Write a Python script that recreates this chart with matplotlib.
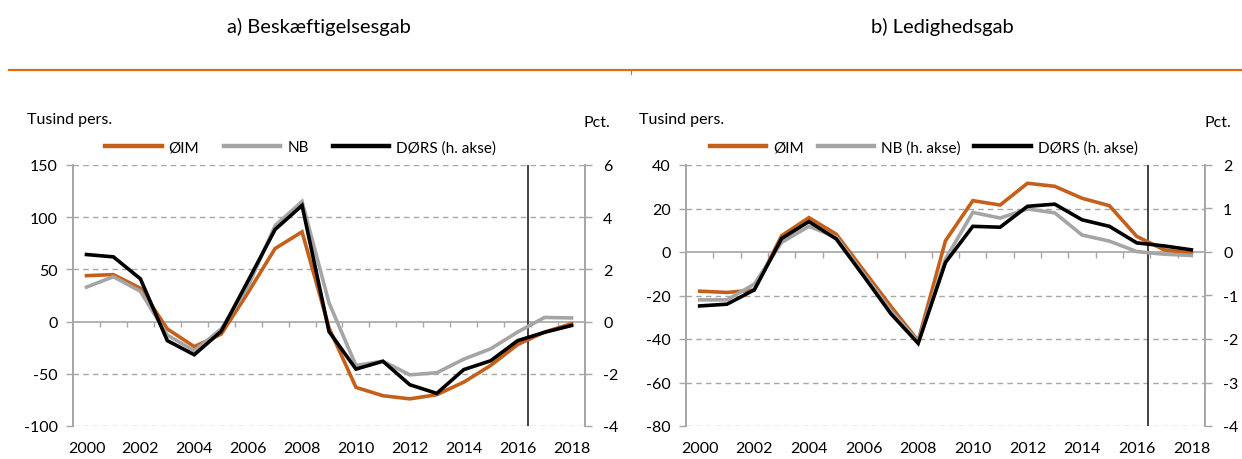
import matplotlib
matplotlib.use("Agg")
import matplotlib.pyplot as plt
from matplotlib.lines import Line2D
import numpy as np

plt.rcParams['font.family'] = ['Lato', 'DejaVu Sans']

years = list(range(2000, 2019))
xtick_labels = [str(y) for y in range(2000, 2019, 2)]

# Panel a) Beskæftigelsesgab
a_oim = [44, 45, 32, -7, -24, -12, 28, 70, 86, -6, -63, -71, -74, -70, -58, -42, -22, -10, -2]
a_nb = [33, 43, 29, -13, -28, -7, 34, 92, 115, 18, -42, -38, -51, -49, -36, -26, -10, 4, 3.5]
a_dors = [2.57, 2.48, 1.64, -0.73, -1.27, -0.37, 1.57, 3.53, 4.45, -0.38, -1.82, -1.52,
          -2.42, -2.75, -1.84, -1.50, -0.73, -0.41, -0.15]

# Panel b) Ledighedsgab
b_oim = [-18, -18.6, -17.5, 7.5, 15.8, 8.2, -8.4, -25, -40.8, 5.2, 23.6, 21.6,
         31.6, 30.2, 24.7, 21.3, 7.2, 1, -0.5]
b_nb = [-1.1, -1.1, -0.74, 0.22, 0.59, 0.34, -0.5, -1.35, -2.06, -0.16, 0.91, 0.78,
        0.99, 0.9, 0.39, 0.25, 0.01, -0.05, -0.08]
b_dors = [-1.24, -1.2, -0.87, 0.31, 0.70, 0.30, -0.55, -1.42, -2.1, -0.24, 0.59, 0.57,
          1.05, 1.1, 0.74, 0.59, 0.21, 0.14, 0.05]

titles = ["a) Beskæftigelsesgab", "b) Ledighedsgab"]
left_ticks = [[150, 100, 50, 0, -50, -100], [40, 20, 0, -20, -40, -60, -80]]
right_ticks = [[6, 4, 2, 0, -2, -4], [2, 1, 0, -1, -2, -3, -4]]
forecast_x = 16.4

ORANGE = "#C5601B"
GRAY = "#A5A5A5"
BLACK = "#000000"
AXGRAY = "#A6A6A6"

fig = plt.figure(figsize=(12.42, 4.6), dpi=100)

def setup(ax_rect, lt, rt, series_left, series_right, labels, colors, legend_x, colspacing, title, title_x):
    ax = fig.add_axes(ax_rect)
    ax2 = ax.twinx()
    x = np.arange(len(years))
    ax.set_xlim(-0.5, len(years) - 0.5)
    ax.set_ylim(min(lt), max(lt))
    ax2.set_ylim(min(rt), max(rt))
    ax.set_yticks(lt)
    ax.set_yticklabels([str(v) for v in lt])
    ax2.set_yticks(rt)
    ax2.set_yticklabels([str(v) for v in rt])
    for v in lt:
        if v == 0:
            ax.axhline(0, color=AXGRAY, lw=1.2, zorder=1)
        else:
            ax.axhline(v, color=AXGRAY, lw=1.0, ls=(0, (4, 3)), zorder=1)
    y0 = (0 - min(lt)) / (max(lt) - min(lt))
    ax.vlines(np.arange(0.5, len(years) - 1, 1), y0 - 0.022, y0,
              transform=ax.get_xaxis_transform(), color=AXGRAY, lw=1.0, zorder=1)
    ax.set_xticks(x[::2])
    ax.set_xticklabels(xtick_labels)
    ax.tick_params(axis='x', length=0, pad=11, labelsize=11.5, colors='#000000')
    ax.tick_params(axis='y', length=5, width=1, color=AXGRAY, pad=6, labelsize=11.5)
    ax2.tick_params(axis='y', length=5, width=1, color=AXGRAY, pad=8, labelsize=11.5)
    for a in (ax, ax2):
        a.spines['top'].set_visible(False)
        a.spines['bottom'].set_visible(False)
        a.spines['left'].set_color(AXGRAY)
        a.spines['right'].set_color(AXGRAY)
        a.spines['left'].set_linewidth(1.2)
        a.spines['right'].set_linewidth(1.2)
    ax.axvline(forecast_x, color="#333333", lw=1.3, zorder=2)
    handles = []
    for (vals, is_right), lab, col in zip(series_left + series_right, labels, colors):
        target = ax2 if is_right else ax
        target.plot(x, vals, color=col, lw=2.6, solid_joinstyle='miter', zorder=3)
        handles.append(Line2D([], [], color=col, lw=3.2))
    ax2.set_zorder(ax.get_zorder() + 1)
    ax2.patch.set_visible(False)
    ax.legend(handles, labels, loc='center left', bbox_to_anchor=(legend_x, 1.068),
              ncol=3, frameon=False, fontsize=11, handlelength=3.7, handletextpad=0.45,
              columnspacing=colspacing, borderpad=0, borderaxespad=0)
    ax.text(-0.09, 1.175, "Tusind pers.", transform=ax.transAxes, fontsize=11.5,
            ha='left', va='center')
    ax2.text(1.05, 1.165, "Pct.", transform=ax.transAxes, fontsize=11.5,
             ha='right', va='center')
    fig.text(title_x, 1 - 27 / 460, title, fontsize=14.5, ha='center', va='center')
    return ax, ax2

setup([73 / 1242, 1 - 427 / 460, 512 / 1242, 261 / 460], left_ticks[0], right_ticks[0],
      [(a_oim, False), (a_nb, False)], [(a_dors, True)],
      ["ØIM", "NB", "DØRS (h. akse)"], [ORANGE, GRAY, BLACK], 0.063, 1.6,
      titles[0], 319 / 1242)
setup([686 / 1242, 1 - 427 / 460, 519 / 1242, 261 / 460], left_ticks[1], right_ticks[1],
      [(b_oim, False)], [(b_nb, True), (b_dors, True)],
      ["ØIM", "NB (h. akse)", "DØRS (h. akse)"], [ORANGE, GRAY, BLACK], 0.046, 0.9,
      titles[1], 942 / 1242)

ysep = 1 - 71 / 460
fig.add_artist(Line2D([9 / 1242, 1.0], [ysep, ysep], color="#E36C0A", lw=1.6,
                      transform=fig.transFigure))
fig.add_artist(Line2D([631 / 1242, 631 / 1242], [ysep, ysep - 4 / 460], color="#E36C0A", lw=0.8,
                      transform=fig.transFigure))

fig.savefig("out.png", dpi=100)
